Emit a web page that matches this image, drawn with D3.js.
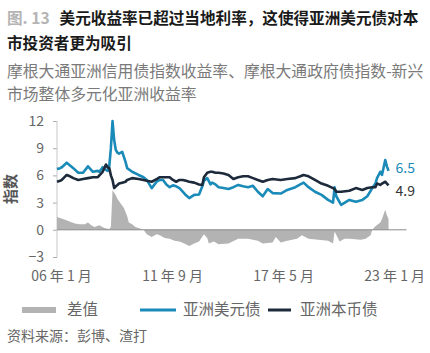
<!DOCTYPE html>
<html><head><meta charset="utf-8">
<script src="https://cdn.jsdelivr.net/npm/d3@7"></script>
<style>
body{margin:0;background:#fff;}
svg{display:block;font-family:"Noto Sans CJK SC","Noto Sans",sans-serif;}
</style></head>
<body>
<svg id="c" width="430" height="353"></svg>
<script>
const lineDates = ["2006-01","2006-03","2006-04","2006-07","2006-09","2006-11","2007-02","2007-05","2007-08","2007-11","2008-02","2008-03","2008-05","2008-07","2008-08","2008-09","2008-10","2008-11","2008-12","2009-01","2009-02","2009-03","2009-05","2009-07","2009-08","2009-11","2010-03","2010-06","2010-08","2010-11","2011-02","2011-04","2011-06","2011-08","2011-10","2011-12","2012-02","2012-04","2012-06","2012-08","2012-10","2013-01","2013-04","2013-06","2013-07","2013-09","2013-11","2013-12","2014-02","2014-04","2014-07","2014-10","2015-01","2015-04","2015-07","2015-10","2016-01","2016-04","2016-07","2016-10","2017-01","2017-06","2017-10","2018-03","2018-06","2018-08","2018-11","2019-03","2019-07","2019-11","2020-02","2020-03","2020-04","2020-07","2020-12","2021-04","2021-08","2021-11","2022-02","2022-04","2022-05","2022-07","2022-08","2022-10","2022-11","2022-12"];
const usdYield = [6.7,6.8,6.9,7.4,7.1,6.8,6.3,6.3,7.0,6.4,6.5,6.4,6.9,6.6,6.5,7.0,9.0,12.0,9.9,8.8,8.5,8.4,8.6,7.5,6.8,6.4,6.05,5.8,5.5,4.6,5.3,5.5,5.5,5.0,4.7,4.9,4.8,4.6,4.2,3.8,3.5,3.85,3.9,4.8,5.4,5.7,5.0,5.2,5.0,4.7,4.6,4.5,4.7,4.95,4.8,4.7,4.85,4.2,3.7,4.5,4.05,4.0,4.4,4.7,5.0,5.2,4.7,4.2,3.85,3.3,3.0,4.7,3.7,2.75,3.3,3.1,3.3,3.7,4.6,5.1,5.7,6.4,6.05,7.7,7.0,6.5];
const localYield = [5.3,5.4,5.5,6.05,5.9,5.7,5.5,5.6,5.7,5.8,5.8,6.0,6.4,7.2,6.9,6.8,6.0,5.5,4.6,4.8,4.95,5.1,5.2,5.3,5.5,5.7,5.6,5.5,5.4,5.3,5.6,5.8,5.8,5.8,5.8,5.5,5.3,5.5,5.5,5.4,5.3,5.2,5.0,4.95,5.8,6.3,6.4,6.4,6.3,6.3,6.2,6.05,5.6,5.8,5.9,5.9,5.7,5.5,5.3,5.5,5.6,5.5,5.6,5.7,5.9,6.05,5.9,5.5,5.1,4.85,4.6,4.5,4.2,4.2,4.3,4.6,4.4,4.6,4.7,4.7,5.1,4.95,5.1,5.3,5.1,4.9];
const diffDates = ["2006-01","2006-03","2006-06","2006-09","2006-12","2007-03","2007-06","2007-08","2007-10","2007-12","2008-03","2008-06","2008-09","2008-10","2008-11","2009-01","2009-02","2009-04","2009-06","2009-08","2009-09","2009-11","2010-01","2010-03","2010-06","2010-08","2010-11","2011-02","2011-04","2011-07","2011-10","2012-01","2012-04","2012-07","2012-10","2013-01","2013-04","2013-07","2013-09","2013-10","2014-01","2014-04","2014-10","2015-04","2015-10","2016-04","2016-07","2017-01","2017-03","2017-06","2017-10","2018-04","2018-07","2018-11","2019-05","2019-11","2020-02","2020-03","2020-06","2020-09","2020-12","2021-07","2021-10","2022-01","2022-02","2022-04","2022-07","2022-08","2022-10","2022-11","2022-12"];
const diffValues = [1.4,1.3,1.1,0.9,0.7,0.6,0.6,0.8,0.5,0.3,0.5,0.2,0.1,0.3,4.4,3.8,3.4,2.9,2.4,1.5,0.8,0.6,0.3,0.2,0.0,-0.5,-0.8,-0.5,-0.6,-0.9,-1.0,-1.2,-1.3,-1.5,-1.8,-1.5,-1.3,-0.5,-0.9,-1.5,-1.3,-1.6,-1.5,-1.0,-1.0,-1.2,-1.5,-1.4,-0.8,-1.4,-1.2,-1.0,-0.6,-1.0,-1.1,-1.2,-1.5,-0.2,-1.3,-1.0,-1.0,-1.1,-1.0,-0.6,0.0,0.4,0.8,1.2,2.2,1.6,1.2];
const yTicks = [-3,0,3,6,9,12];
const xTickDates = ["2006-01","2011-09","2017-05","2023-01"];
const xTickLabels = ["06 年 1 月","11 年 9 月","17 年 5 月","23 年 1 月"];
const endLabels = ["6.5","4.9"];
const legendLabels = ["差值","亚洲美元债","亚洲本币债"];

const parse = d3.timeParse("%Y-%m");
const blue = "#1a8ab8", dark = "#1d2a3b", grey = "#b3b3b3";
const svg = d3.select("#c");

const x = d3.scaleTime().domain([parse("2006-01"), parse("2023-11")]).range([57, 406.5]);
const y = d3.scaleLinear().domain([-3, 12]).range([257, 121]);

// Titles
const t1 = svg.append("text").attr("x", 7).attr("y", 24).attr("font-size", 15.6).attr("font-weight", "bold");
t1.append("tspan").attr("fill", "#b4b4b4").text("图. 13");
t1.append("tspan").attr("fill", "#1a1a1a").attr("dx", 10).text("美元收益率已超过当地利率，这使得亚洲美元债对本");
svg.append("text").attr("x", 7).attr("y", 49).attr("font-size", 15.6).attr("font-weight", "bold").attr("fill", "#1a1a1a").text("市投资者更为吸引");
svg.append("text").attr("x", 7).attr("y", 77).attr("font-size", 15.8).attr("fill", "#7a7a7a").text("摩根大通亚洲信用债指数收益率、摩根大通政府债指数-新兴");
svg.append("text").attr("x", 7).attr("y", 100).attr("font-size", 15.8).attr("fill", "#7a7a7a").text("市场整体多元化亚洲收益率");

// Y axis
const ya = svg.append("g").attr("transform", "translate(57,0)")
  .call(d3.axisLeft(y).tickValues(yTicks).tickSize(4).tickPadding(9).tickFormat(d3.format("d")));
ya.select(".domain").remove();
ya.selectAll(".tick line").attr("stroke", "#aaa");
ya.selectAll(".tick text").attr("font-size", 14).attr("fill", "#666").attr("font-family", "'Noto Sans CJK SC',sans-serif");
svg.append("line").attr("x1", 57).attr("x2", 57).attr("y1", y(12)).attr("y2", y(-3)).attr("stroke", "#c8c8c8");

svg.append("text").attr("transform", `translate(16,${y(4.5)}) rotate(-90)`).attr("text-anchor", "middle")
  .attr("font-size", 15).attr("font-weight", "bold").attr("fill", "#555").text("指数");

// Diff area
const diffData = diffDates.map((d, i) => ({d: parse(d), v: diffValues[i]}));
svg.append("path").datum(diffData)
  .attr("d", d3.area().x(d => x(d.d)).y0(y(0)).y1(d => y(d.v)))
  .attr("fill", grey);

// zero line
svg.append("line").attr("x1", 57).attr("x2", x.range()[1]).attr("y1", y(0)).attr("y2", y(0)).attr("stroke", "#8a8a8a").attr("stroke-width", 1);

// Lines
const usdData = lineDates.map((d, i) => ({d: parse(d), v: usdYield[i]}));
const locData = lineDates.map((d, i) => ({d: parse(d), v: localYield[i]}));
const line = d3.line().x(d => x(d.d)).y(d => y(d.v));
svg.append("path").datum(usdData).attr("d", line).attr("fill", "none").attr("stroke", blue).attr("stroke-width", 2.6).attr("stroke-linejoin", "round");
svg.append("path").datum(locData).attr("d", line).attr("fill", "none").attr("stroke", dark).attr("stroke-width", 2.6).attr("stroke-linejoin", "round");

// End labels
const lastX = x(parse(lineDates[lineDates.length - 1]));
svg.append("text").attr("x", lastX + 7).attr("y", y(usdYield[usdYield.length - 1]) - 3).attr("dy", "0.35em")
  .attr("font-size", 14).attr("fill", blue).text(endLabels[0]);
svg.append("text").attr("x", lastX + 7).attr("y", y(localYield[localYield.length - 1]) + 5.5).attr("dy", "0.35em")
  .attr("font-size", 14).attr("fill", "#333").text(endLabels[1]);

// X axis labels
const xa = svg.append("g").attr("transform", `translate(4,${y(-3)})`)
  .call(d3.axisBottom(x).tickValues(xTickDates.map(parse)).tickSize(0).tickPadding(14)
    .tickFormat((d, i) => xTickLabels[i]));
xa.select(".domain").remove();
xa.selectAll(".tick text").attr("font-size", 14).attr("fill", "#666").attr("font-family", "'Noto Sans CJK SC',sans-serif");

// Legend
const lg = svg.append("g");
lg.append("rect").attr("x", 22).attr("y", 307).attr("width", 34).attr("height", 6).attr("fill", grey);
lg.append("text").attr("x", 67).attr("y", 310).attr("dy", "0.35em").attr("font-size", 15.5).attr("fill", "#666").text(legendLabels[0]);
lg.append("line").attr("x1", 140).attr("x2", 176).attr("y1", 310).attr("y2", 310).attr("stroke", blue).attr("stroke-width", 3);
lg.append("text").attr("x", 183).attr("y", 310).attr("dy", "0.35em").attr("font-size", 15.5).attr("fill", "#666").text(legendLabels[1]);
lg.append("line").attr("x1", 268).attr("x2", 291).attr("y1", 310).attr("y2", 310).attr("stroke", dark).attr("stroke-width", 3);
lg.append("text").attr("x", 300).attr("y", 310).attr("dy", "0.35em").attr("font-size", 15.5).attr("fill", "#666").text(legendLabels[2]);

// Source
svg.append("text").attr("x", 7).attr("y", 341).attr("font-size", 14).attr("fill", "#666").text("资料来源：彭博、渣打");
</script>
</body></html>
